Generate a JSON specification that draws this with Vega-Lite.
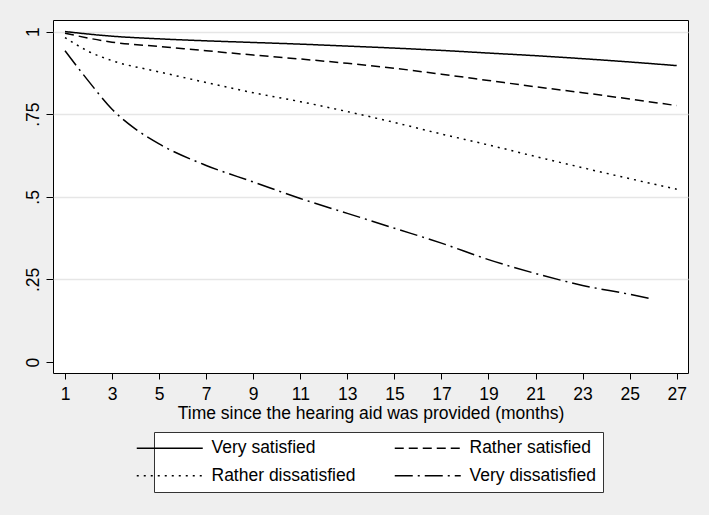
{
  "$schema": "https://vega.github.io/schema/vega-lite/v6.json",
  "width": 635,
  "height": 353,
  "autosize": {"type": "none"},
  "padding": {"left": 53, "top": 20, "right": 21, "bottom": 142},
  "background": "#efefef",
  "config": {
    "font": "Liberation Sans",
    "view": {"fill": "white", "stroke": "black", "strokeWidth": 1},
    "axis": {"labelColor": "black", "titleColor": "black", "tickColor": "black", "domain": false, "labelFont": "Liberation Sans", "titleFont": "Liberation Sans", "titleFontWeight": "normal"}
  },
  "data": {
    "values": [
      {"t": 1, "s": 1.0, "g": "Very satisfied"},
      {"t": 3, "s": 0.986, "g": "Very satisfied"},
      {"t": 5, "s": 0.978, "g": "Very satisfied"},
      {"t": 7, "s": 0.972, "g": "Very satisfied"},
      {"t": 9, "s": 0.967, "g": "Very satisfied"},
      {"t": 11, "s": 0.962, "g": "Very satisfied"},
      {"t": 13, "s": 0.956, "g": "Very satisfied"},
      {"t": 15, "s": 0.95, "g": "Very satisfied"},
      {"t": 17, "s": 0.943, "g": "Very satisfied"},
      {"t": 19, "s": 0.935, "g": "Very satisfied"},
      {"t": 21, "s": 0.927, "g": "Very satisfied"},
      {"t": 23, "s": 0.918, "g": "Very satisfied"},
      {"t": 25, "s": 0.908, "g": "Very satisfied"},
      {"t": 27, "s": 0.897, "g": "Very satisfied"},
      {"t": 1, "s": 0.995, "g": "Rather satisfied"},
      {"t": 3, "s": 0.968, "g": "Rather satisfied"},
      {"t": 5, "s": 0.955, "g": "Rather satisfied"},
      {"t": 7, "s": 0.942, "g": "Rather satisfied"},
      {"t": 9, "s": 0.929, "g": "Rather satisfied"},
      {"t": 11, "s": 0.917, "g": "Rather satisfied"},
      {"t": 13, "s": 0.904, "g": "Rather satisfied"},
      {"t": 15, "s": 0.889, "g": "Rather satisfied"},
      {"t": 17, "s": 0.871, "g": "Rather satisfied"},
      {"t": 19, "s": 0.852, "g": "Rather satisfied"},
      {"t": 21, "s": 0.833, "g": "Rather satisfied"},
      {"t": 23, "s": 0.815, "g": "Rather satisfied"},
      {"t": 25, "s": 0.796, "g": "Rather satisfied"},
      {"t": 27, "s": 0.776, "g": "Rather satisfied"},
      {"t": 1, "s": 0.982, "g": "Rather dissatisfied"},
      {"t": 2, "s": 0.94, "g": "Rather dissatisfied"},
      {"t": 3, "s": 0.912, "g": "Rather dissatisfied"},
      {"t": 5, "s": 0.878, "g": "Rather dissatisfied"},
      {"t": 7, "s": 0.846, "g": "Rather dissatisfied"},
      {"t": 9, "s": 0.815, "g": "Rather dissatisfied"},
      {"t": 11, "s": 0.788, "g": "Rather dissatisfied"},
      {"t": 13, "s": 0.758, "g": "Rather dissatisfied"},
      {"t": 15, "s": 0.725, "g": "Rather dissatisfied"},
      {"t": 17, "s": 0.69, "g": "Rather dissatisfied"},
      {"t": 19, "s": 0.657, "g": "Rather dissatisfied"},
      {"t": 21, "s": 0.622, "g": "Rather dissatisfied"},
      {"t": 23, "s": 0.588, "g": "Rather dissatisfied"},
      {"t": 25, "s": 0.555, "g": "Rather dissatisfied"},
      {"t": 27, "s": 0.523, "g": "Rather dissatisfied"},
      {"t": 1, "s": 0.942, "g": "Very dissatisfied"},
      {"t": 2, "s": 0.85, "g": "Very dissatisfied"},
      {"t": 3, "s": 0.765, "g": "Very dissatisfied"},
      {"t": 4, "s": 0.705, "g": "Very dissatisfied"},
      {"t": 5, "s": 0.66, "g": "Very dissatisfied"},
      {"t": 7, "s": 0.595, "g": "Very dissatisfied"},
      {"t": 9, "s": 0.545, "g": "Very dissatisfied"},
      {"t": 11, "s": 0.495, "g": "Very dissatisfied"},
      {"t": 13, "s": 0.45, "g": "Very dissatisfied"},
      {"t": 15, "s": 0.405, "g": "Very dissatisfied"},
      {"t": 17, "s": 0.36, "g": "Very dissatisfied"},
      {"t": 19, "s": 0.31, "g": "Very dissatisfied"},
      {"t": 21, "s": 0.268, "g": "Very dissatisfied"},
      {"t": 23, "s": 0.232, "g": "Very dissatisfied"},
      {"t": 25, "s": 0.205, "g": "Very dissatisfied"},
      {"t": 26, "s": 0.19, "g": "Very dissatisfied"}
    ]
  },
  "mark": {"type": "line", "color": "black", "strokeWidth": 1.5, "interpolate": "monotone", "clip": true},
  "encoding": {
    "x": {
      "field": "t", "type": "quantitative",
      "scale": {"domain": [0.49, 27.48], "nice": false, "zero": false},
      "axis": {
        "values": [1, 3, 5, 7, 9, 11, 13, 15, 17, 19, 21, 23, 25, 27],
        "grid": false, "tickSize": 6, "labelPadding": 6, "labelFontSize": 17.5,
        "labelFlush": false, "labelOverlap": false,
        "title": "Time since the hearing aid was provided (months)",
        "titleFontSize": 17.5, "titlePadding": 2
      }
    },
    "y": {
      "field": "s", "type": "quantitative",
      "scale": {"domain": [-0.033, 1.035], "nice": false, "zero": false},
      "axis": {
        "values": [0, 0.25, 0.5, 0.75, 1],
        "labelExpr": "datum.value == 0 ? '0' : datum.value == 1 ? '1' : substring(format(datum.value, '.2~f'), 1)",
        "labelAngle": -90, "labelAlign": "center", "labelBaseline": "alphabetic",
        "labelPadding": 8, "tickSize": 7, "labelFontSize": 17.5, "labelFlush": false,
        "grid": true, "gridColor": "#e6e6e6", "gridWidth": 1.5,
        "gridOpacity": {"condition": {"test": "datum.value == 0", "value": 0}, "value": 1},
        "title": null
      }
    },
    "strokeDash": {
      "field": "g", "type": "nominal",
      "scale": {
        "domain": ["Very satisfied", "Rather satisfied", "Rather dissatisfied", "Very dissatisfied"],
        "range": [[1, 0], [9, 5], [2, 5], [18, 5, 2, 5]]
      },
      "legend": {
        "title": null, "orient": "none", "legendX": 101, "legendY": 412,
        "columns": 2, "direction": "horizontal", "gridAlign": "all",
        "symbolType": "M-6,0H6", "symbolSize": 121, "symbolStrokeWidth": 1.5, "symbolStrokeColor": "black",
        "labelFontSize": 17.5, "labelColor": "black", "labelOffset": 33, "labelLimit": 300,
        "columnPadding": 35, "rowPadding": 9,
        "padding": 7, "strokeColor": "#333333", "fillColor": "white", "cornerRadius": 0
      }
    }
  }
}
